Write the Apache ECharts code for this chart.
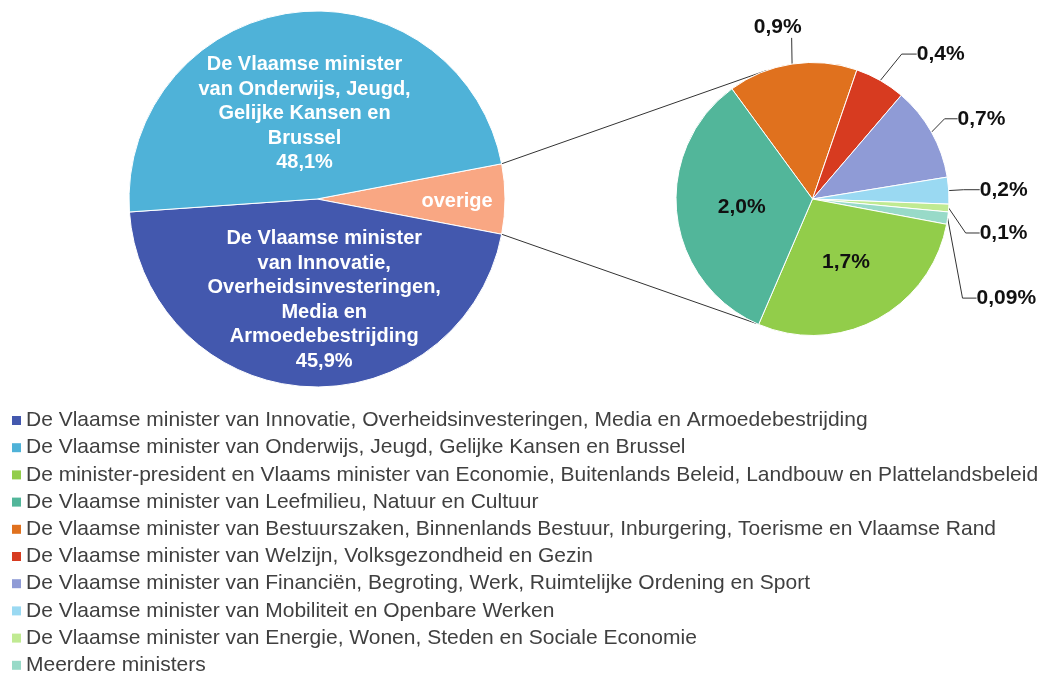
<!DOCTYPE html>
<html><head><meta charset="utf-8">
<script src="https://cdn.jsdelivr.net/npm/echarts@6/dist/echarts.min.js"></script>
<style>html,body{margin:0;padding:0;background:#fff}#c{width:1056px;height:673px}</style>
</head><body><div id="c"></div>
<script>
// ---- data ----
const mainNames = [
  'overige',
  'De Vlaamse minister van Innovatie, Overheidsinvesteringen, Media en Armoedebestrijding',
  'De Vlaamse minister van Onderwijs, Jeugd, Gelijke Kansen en Brussel'
];
const mainValues = [6.0, 45.9, 48.1];
const mainLabelText = [
  'overige',
  'De Vlaamse minister\nvan Innovatie,\nOverheidsinvesteringen,\nMedia en\nArmoedebestrijding',
  'De Vlaamse minister\nvan Onderwijs, Jeugd,\nGelijke Kansen en\nBrussel'
];
const subNames = [
  'De Vlaamse minister van Bestuurszaken, Binnenlands Bestuur, Inburgering, Toerisme en Vlaamse Rand',
  'De Vlaamse minister van Welzijn, Volksgezondheid en Gezin',
  'De Vlaamse minister van Financiën, Begroting, Werk, Ruimtelijke Ordening en Sport',
  'De Vlaamse minister van Mobiliteit en Openbare Werken',
  'De Vlaamse minister van Energie, Wonen, Steden en Sociale Economie',
  'Meerdere ministers',
  'De minister-president en Vlaams minister van Economie, Buitenlands Beleid, Landbouw en Plattelandsbeleid',
  'De Vlaamse minister van Leefmilieu, Natuur en Cultuur'
];
const subValues = [0.92, 0.36, 0.67, 0.19, 0.055, 0.087, 1.71, 2.01];
const subLabels = ['0,9%', '0,4%', '0,7%', '0,2%', '0,1%', '0,09%', '1,7%', '2,0%'];
const legendOrder = [
  mainNames[1], mainNames[2], subNames[6], subNames[7], subNames[0],
  subNames[1], subNames[2], subNames[3], subNames[4], subNames[5]
];

// ---- style ----
const mainColors = ['#F9A783', '#4358AE', '#4FB2D8'];
const subColors = ['#E0711E', '#D73B20', '#8F9BD6', '#9AD9F2', '#C0EA92', '#98DAC8', '#92CD4A', '#52B69A'];
const L = [317, 199], RL = 188;
const R = [812.5, 199], RR = 136.5;
const mainStart = 10.8;
const subStart = 126.2;
const connectAngles = [109.6, -114];

const mainTotal = mainValues.reduce((a, b) => a + b, 0);
const overSpan = mainValues[0] / mainTotal * 360;
function pt(c, r, deg) {
  const a = deg * Math.PI / 180;
  return [c[0] + r * Math.cos(a), c[1] - r * Math.sin(a)];
}
const p1 = pt(L, RL, mainStart), p2 = pt(L, RL, mainStart - overSpan);
const q1 = pt(R, RR, connectAngles[0]), q2 = pt(R, RR, connectAngles[1]);

const fmt = v => v.toFixed(1).replace('.', ',') + '%';

const chart = echarts.init(document.getElementById('c'));
const labelFont = 'Liberation Sans, Arial, sans-serif';

const subOutside = [true, true, true, true, true, true, false, false];
const subLine = [
  {length: 30, length2: 0},
  {length: 27, length2: 15},
  {length: 15, length2: 13},
  {length: 14, length2: 16},
  {length: 14, length2: 14},
  {length: 14, length2: 14},
  {}, {}
];
// label nudges (relative to library default placement)
const subNudge = [
  {dx: 47, dy: -7, center: true, padding: [0, 28, 0, 0]},
  {dx: 3, dy: -3},
  {dx: -5, dy: -6},
  {dx: -4, dy: 0},
  {dx: -2, dy: 24},
  {dx: -4, dy: 78, padding: [0, 44, 0, 0]},
  null, null
];

chart.setOption({
  animation: false,
  legend: {
    orient: 'vertical', left: 12, top: 410, padding: 0, height: 290,
    itemWidth: 9, itemHeight: 9, itemGap: 6.2, icon: 'rect',
    itemStyle: {borderWidth: 0},
    data: legendOrder,
    textStyle: {fontFamily: labelFont, fontSize: 21, color: '#404040', lineHeight: 20}
  },
  graphic: [
    {type: 'line', z: 0, shape: {x1: p1[0], y1: p1[1], x2: q1[0], y2: q1[1]}, style: {stroke: '#333', lineWidth: 1}},
    {type: 'line', z: 0, shape: {x1: p2[0], y1: p2[1], x2: q2[0], y2: q2[1]}, style: {stroke: '#333', lineWidth: 1}}
  ],
  series: [
    {
      type: 'pie', center: L, radius: RL, startAngle: mainStart, clockwise: true,
      avoidLabelOverlap: false, legendHoverLink: false,
      itemStyle: {borderColor: '#fff', borderWidth: 1},
      label: {
        position: 'inside', color: '#fff', fontFamily: labelFont, fontWeight: 'bold',
        fontSize: 20, lineHeight: 24.5, align: 'center',
        formatter: p => p.dataIndex === 0 ? mainLabelText[0] : mainLabelText[p.dataIndex] + '\n' + fmt(p.value)
      },
      labelLayout: p => [{dx: 43, dy: 2}, {dx: 13, dy: 4}, {dy: 11}][p.dataIndex],
      data: mainNames.map((n, i) => ({name: n, value: mainValues[i], itemStyle: {color: mainColors[i]}}))
    },
    {
      type: 'pie', center: R, radius: RR, startAngle: subStart, clockwise: true,
      avoidLabelOverlap: false,
      itemStyle: {borderColor: '#fff', borderWidth: 1},
      label: {
        color: '#111', fontFamily: labelFont, fontWeight: 'bold', fontSize: 21,
        formatter: p => subLabels[p.dataIndex]
      },
      labelLine: {lineStyle: {color: '#333', width: 1}},
      labelLayout: p => {
        const n = subNudge[p.dataIndex];
        if (!n) return {};
        const r = p.labelRect;
        if (n.center) {
          return {x: r.x + r.width / 2 + n.dx, y: r.y + r.height / 2 + n.dy, align: 'center', verticalAlign: 'middle'};
        }
        return {x: r.x + n.dx, y: r.y + r.height / 2 + n.dy, align: 'left', verticalAlign: 'middle'};
      },
      data: subNames.map((n, i) => ({
        name: n, value: subValues[i], itemStyle: {color: subColors[i]},
        label: subOutside[i]
          ? Object.assign({position: 'outside'}, subNudge[i] && subNudge[i].padding
              ? {padding: subNudge[i].padding, backgroundColor: 'rgba(255,255,255,0)'} : {})
          : {position: 'inside'},
        labelLine: subOutside[i] ? Object.assign({show: true}, subLine[i]) : {show: false}
      }))
    }
  ]
});
</script>
</body></html>
